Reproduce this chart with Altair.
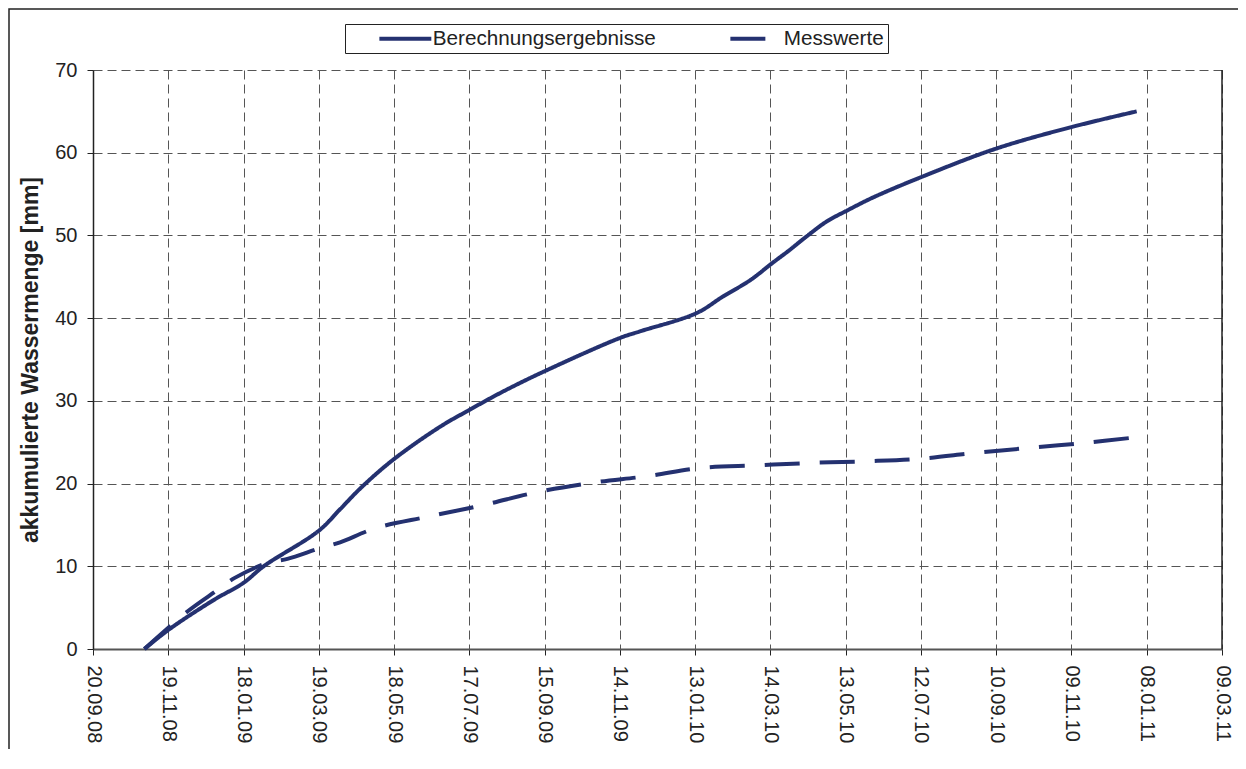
import altair as alt
import pandas as pd

# ---- data ----
tick_labels = ["20.09.08", "19.11.08", "18.01.09", "19.03.09", "18.05.09", "17.07.09",
               "15.09.09", "14.11.09", "13.01.10", "14.03.10", "13.05.10", "12.07.10",
               "10.09.10", "09.11.10", "08.01.11", "09.03.11"]
y_ticks = [0, 10, 20, 30, 40, 50, 60, 70]
series_names = ["Berechnungsergebnisse", "Messwerte"]

# days after 20.09.08 and accumulated water amount [mm]
calc_days = [41, 60, 96, 120, 136, 180, 197, 213, 239, 277, 300, 324, 356,
             420, 436, 481, 502, 524, 541, 555, 569, 585, 601, 622, 661, 720, 780, 832]
calc_values = [0.0, 2.3, 5.9, 8.0, 10.0, 14.3, 16.9, 19.4, 22.85, 26.9, 28.9, 30.9, 33.3,
               37.6, 38.4, 40.6, 42.6, 44.6, 46.6, 48.2, 49.9, 51.7, 53.0, 54.6, 57.1, 60.5, 63.1, 65.0]

meas_days = [41, 75, 99, 113, 139, 155, 181, 197, 225, 267, 311, 355, 398, 442,
             485, 529, 573, 617, 659, 703, 745, 789, 832]
meas_values = [0.0, 4.5, 7.1, 8.6, 10.4, 10.9, 12.2, 12.9, 14.6, 16.0, 17.4, 19.0, 20.1, 20.9,
               21.9, 22.2, 22.5, 22.7, 23.0, 23.7, 24.3, 24.9, 25.6]

NAVY = "#243170"
FONT = "Liberation Sans"

tick_ms = [int(pd.to_datetime(t, format="%d.%m.%y").value // 10**6) for t in tick_labels]
base_ms = tick_ms[0]
DAY = 86400000

rows = []
for d, v in zip(calc_days, calc_values):
    rows.append({"t": base_ms + d * DAY, "v": v, "series": series_names[0]})
for d, v in zip(meas_days, meas_values):
    rows.append({"t": base_ms + d * DAY, "v": v, "series": series_names[1]})
df = pd.DataFrame(rows)

x_scale = alt.Scale(type="utc", domain=[tick_ms[0], tick_ms[-1]])

x_axis = alt.Axis(values=tick_ms,
                  labelExpr="utcFormat(datum.value, '%d.%m.%y')",
                  labelAngle=90, labelAlign="left", labelBaseline="middle",
                  labelPadding=10, tickSize=6, title=None,
                  domainColor="#555", domainWidth=2, labelOverlap=False)
y_axis = alt.Axis(values=y_ticks, tickSize=6, labelPadding=10,
                  title="akkumulierte Wassermenge [mm]", titleFontSize=23,
                  titleFontWeight="bold", titlePadding=12, titleColor="#222",
                  domainColor="#222", domainWidth=1.5)

legend = alt.Legend(title=None, orient="none", legendX=252, legendY=-46,
                    direction="horizontal", symbolType="M-5,0H5", symbolSize=108,
                    symbolStrokeWidth=4, symbolFillColor="transparent",
                    symbolOffset=46, labelOffset=17,
                    columnPadding=44, padding=4, labelFontSize=20.7, labelFont=FONT,
                    labelColor="#222", strokeColor="#222", labelLimit=400)

lines = alt.Chart(df).mark_line(strokeWidth=4, interpolate="catmull-rom").encode(
    x=alt.X("t:T", scale=x_scale, axis=x_axis),
    y=alt.Y("v:Q", scale=alt.Scale(domain=[0, 70]), axis=y_axis),
    color=alt.Color("series:N", scale=alt.Scale(domain=series_names, range=[NAVY, NAVY]),
                    legend=legend),
    strokeDash=alt.StrokeDash("series:N",
                              scale=alt.Scale(domain=series_names, range=[[1, 0], [35, 20]]),
                              legend=legend),
)

edge_df = pd.DataFrame({"t": [tick_ms[-1]]})
right_edge = alt.Chart(edge_df).mark_rule(color="#222", strokeWidth=1.5).encode(
    x=alt.X("t:T", scale=x_scale, axis=x_axis)
)

frame = alt.Chart(pd.DataFrame({"k": [0]})).mark_rect(
    filled=False, stroke="#222", strokeWidth=1.5).encode(
    x=alt.value(-84), x2=alt.value(1300), y=alt.value(-61), y2=alt.value(800)
)

chart = alt.layer(frame, right_edge, lines).properties(
    width=1129, height=579,
    padding={"left": 85, "top": 62, "right": 16, "bottom": 100},
    autosize=alt.AutoSizeParams(type="none"),
).configure(font=FONT).configure_view(stroke=None).configure_axis(
    labelFont=FONT, labelFontSize=20, labelColor="#222", tickColor="#222",
    gridColor="#555", gridDash=[9, 5], gridWidth=1, titleFont=FONT,
)

chart.save("out.html", embed_options={"renderer": "svg", "actions": False})
